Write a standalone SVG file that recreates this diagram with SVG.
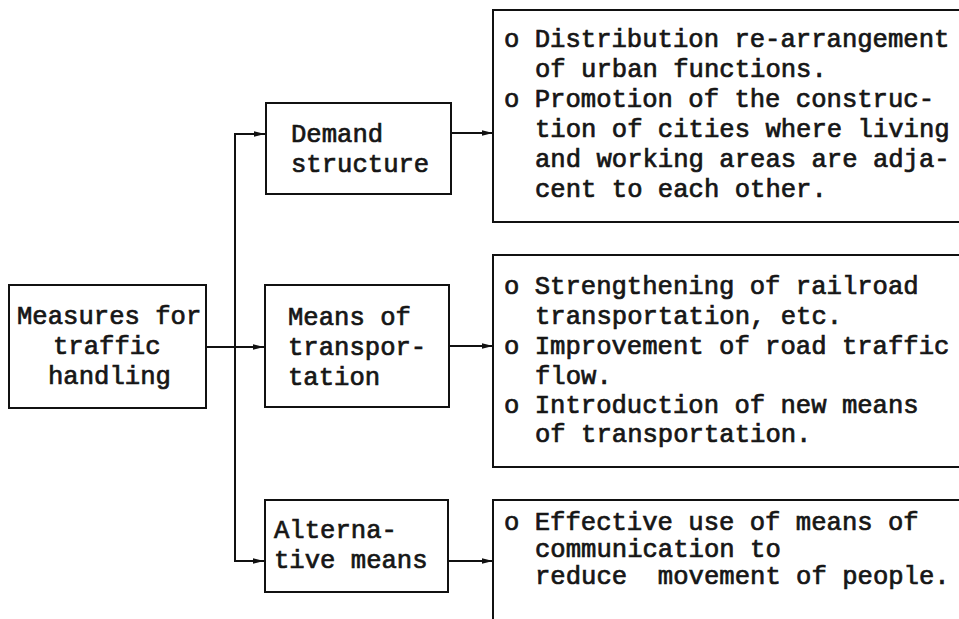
<svg xmlns="http://www.w3.org/2000/svg" width="959" height="619" viewBox="0 0 959 619">
  <style>
    .box { fill: #ffffff; stroke: #111111; stroke-width: 2; }
    .open { fill: none; stroke: #111111; stroke-width: 2; }
    .line { fill: none; stroke: #111111; stroke-width: 2; }
    text { font-family: "Liberation Mono", "Courier New", monospace; font-size: 25.6px; fill: #161616; stroke: #161616; stroke-width: 0.7; white-space: pre; }
  </style>
  <defs>
    <marker id="arrow" viewBox="0 0 11 8" refX="11" refY="4" markerWidth="11" markerHeight="8" markerUnits="userSpaceOnUse" orient="auto">
      <path d="M0,1.2 L11,4 L0,6.8 Z" fill="#111111"/>
    </marker>
  </defs>
  <rect width="959" height="619" fill="#ffffff"/>

  <!-- connectors -->
  <g id="connectors">
    <line class="line" x1="235" y1="134" x2="235" y2="562"/>
    <line class="line" x1="234" y1="134" x2="265" y2="134" marker-end="url(#arrow)"/>
    <line class="line" x1="206" y1="347" x2="264" y2="347" marker-end="url(#arrow)"/>
    <line class="line" x1="234" y1="561" x2="264" y2="561" marker-end="url(#arrow)"/>
    <line class="line" x1="451" y1="133" x2="493" y2="133" marker-end="url(#arrow)"/>
    <line class="line" x1="449" y1="346" x2="493" y2="346" marker-end="url(#arrow)"/>
    <line class="line" x1="448" y1="561" x2="493" y2="561" marker-end="url(#arrow)"/>
  </g>

  <!-- root -->
  <g id="measures">
    <rect class="box" x="9" y="285" width="197" height="123"/>
    <text x="17" y="324">Measures for</text>
    <text x="53" y="354">traffic</text>
    <text x="48" y="384">handling</text>
  </g>

  <!-- second level -->
  <g id="demand">
    <rect class="box" x="266" y="103" width="185" height="91"/>
    <text x="291" y="142">Demand</text>
    <text x="291" y="172">structure</text>
  </g>
  <g id="means">
    <rect class="box" x="265" y="285" width="184" height="122"/>
    <text x="288" y="325">Means of</text>
    <text x="288" y="355">transpor-</text>
    <text x="288" y="385">tation</text>
  </g>
  <g id="alternative">
    <rect class="box" x="265" y="500" width="183" height="92"/>
    <text x="274" y="538">Alterna-</text>
    <text x="274" y="568">tive means</text>
  </g>

  <!-- detail panels, open at the right edge -->
  <g id="demand-detail">
    <path class="open" d="M959,10 H493 V222 H959"/>
    <text x="504" y="47">o Distribution re-arrangement</text>
    <text x="535" y="77">of urban functions.</text>
    <text x="504" y="107">o Promotion of the construc-</text>
    <text x="535" y="137">tion of cities where living</text>
    <text x="535" y="167">and working areas are adja-</text>
    <text x="535" y="197">cent to each other.</text>
  </g>
  <g id="means-detail">
    <path class="open" d="M959,255 H493 V467 H959"/>
    <text x="504" y="294">o Strengthening of railroad</text>
    <text x="535" y="324">transportation, etc.</text>
    <text x="504" y="354">o Improvement of road traffic</text>
    <text x="535" y="384">flow.</text>
    <text x="504" y="413">o Introduction of new means</text>
    <text x="535" y="442">of transportation.</text>
  </g>
  <g id="alternative-detail">
    <path class="open" d="M959,500 H493 V619"/>
    <text x="504" y="530">o Effective use of means of</text>
    <text x="535" y="557">communication to</text>
    <text x="535" y="584">reduce  movement of people.</text>
  </g>
</svg>
